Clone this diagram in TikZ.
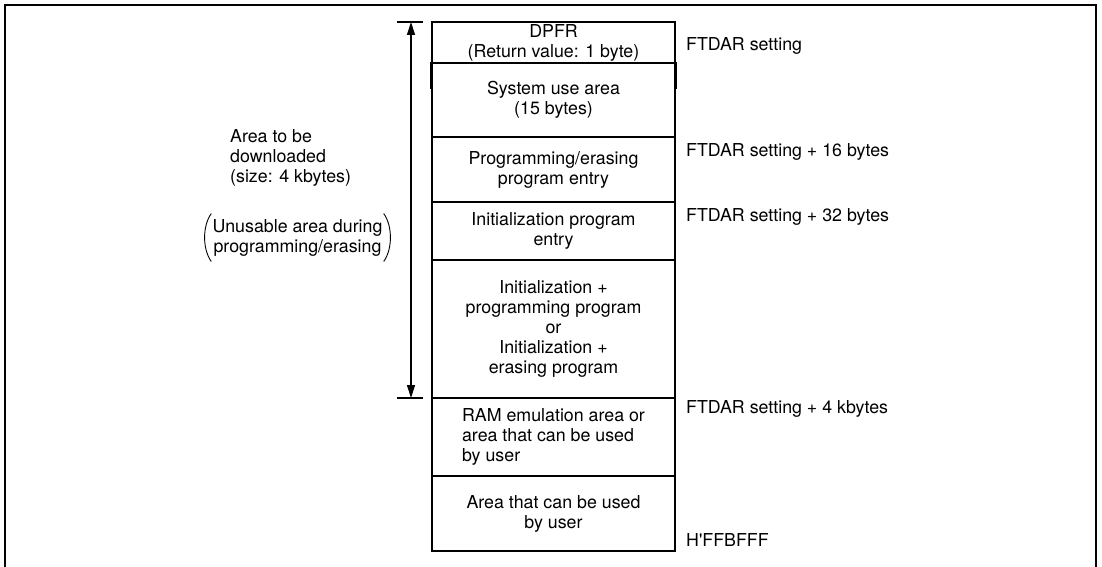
\documentclass[tikz,border=0pt]{standalone}
\usepackage{fontspec}
\setmainfont{TeX Gyre Heros}
\usetikzlibrary{arrows.meta}
\begin{document}
\begin{tikzpicture}[x=1pt,y=-1pt,
  every node/.style={font=\fontsize{17.8}{20}\selectfont},
  row/.style={draw, line width=1.8pt, minimum width=243pt, inner sep=0pt, align=center},
  lbl/.style={anchor=base west, inner sep=0pt},
  dim/.style={line width=1.2pt},
  frame/.style={line width=2.6pt}]
\useasboundingbox (0,0) rectangle (1102,567);
% outer frame (open at the bottom)
\draw[frame] (5,567) -- (5,5) -- (1096,5) -- (1096,567);
% memory map rows
\node[row, minimum height=41pt] (r1) at (553.5,42.5) {DPFR\\(Return value: 1 byte)};
\node[row, minimum height=74pt] (r2) at (553.5,100) {System use area\\(15 bytes)};
\node[row, minimum height=65pt] (r3) at (553.5,169.5) {Programming/erasing\\program entry};
\node[row, minimum height=58pt] (r4) at (553.5,231) {Initialization program\\entry};
\node[row, minimum height=138pt] (r5) at (553.5,329) {Initialization +\\programming program\\or\\Initialization +\\erasing program};
\node[row, minimum height=78pt, align=left] (r6) at (553.5,437) {RAM emulation area or\\area that can be used\\by user};
\node[row, minimum height=75pt] (r7) at (553.5,513.5) {Area that can be used\\by user};
% slightly heavier side strokes at top of system use area
\draw[line width=3pt] (r2.north west) -- ([yshift=-27pt]r2.north west);
\draw[line width=3pt] (r2.north east) -- ([yshift=-27pt]r2.north east);
% address labels
\node[lbl] (l1) at (686,50.5) {FTDAR setting};
\node[lbl] (l2) at (686,156.5) {FTDAR setting + 16 bytes};
\node[lbl] (l3) at (686,221.5) {FTDAR setting + 32 bytes};
\node[lbl] (l4) at (686,413.5) {FTDAR setting + 4 kbytes};
\node[lbl] (l5) at (686,546.5) {H\textquotesingle FFBFFF};
% dimension arrow
\coordinate (tl) at (397,22);
\coordinate (tr) at (423,22);
\coordinate (bl) at (397,398);
\coordinate (br) at (423,398);
\coordinate (at) at (411,22);
\coordinate (ab) at (411,398);
\draw[dim] (tl) -- (tr);
\draw[dim] (bl) -- (br);
\draw[dim, {Triangle[length=13pt,width=8pt]}-{Triangle[length=13pt,width=8pt]}] (at) -- (ab);
% left descriptions
\node[anchor=west, align=left, inner sep=0pt] (dl) at (230,158) {Area to be\\downloaded\\(size: 4 kbytes)};
\node[align=center, inner sep=0pt] (u) at (297.5,237.5) {Unusable area during\\programming/erasing};
\draw[line width=0.9pt] ([shift={(-1,-24)}]u.west) .. controls ([shift={(-10,-12)}]u.west) and ([shift={(-10,12)}]u.west) .. ([shift={(-1,24)}]u.west);
\draw[line width=0.9pt] ([shift={(1,-24)}]u.east) .. controls ([shift={(10,-12)}]u.east) and ([shift={(10,12)}]u.east) .. ([shift={(1,24)}]u.east);
\end{tikzpicture}
\end{document}
